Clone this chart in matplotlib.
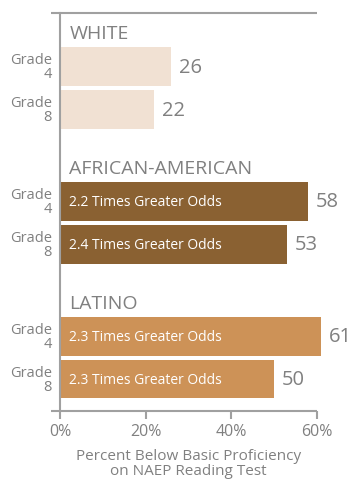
import numpy as np
import matplotlib
matplotlib.use("Agg")
import matplotlib.pyplot as plt

plt.rcParams['font.family'] = ['Open Sans', 'DejaVu Sans']

GRAY = "#808080"
LINE = "#a0a0a0"

groups = ["WHITE", "AFRICAN-AMERICAN", "LATINO"]
grades = ["Grade\n4", "Grade\n8"]
white = [26, 22]
african_american = [58, 53]
latino = [61, 50]
odds_notes = [
    ["", ""],
    ["2.2 Times Greater Odds", "2.4 Times Greater Odds"],
    ["2.3 Times Greater Odds", "2.3 Times Greater Odds"],
]
bar_colors = ["#f1e1d3", "#8a6132", "#cd9257"]
xticks = [0, 20, 40, 60]
xlabel = "Percent Below Basic Proficiency\non NAEP Reading Test"

values = [white, african_american, latino]

W, H = 349, 485
fig = plt.figure(figsize=(W / 100, H / 100), dpi=100)
ax_left, ax_right, ax_top, ax_bot = 60, 317, 13.5, 412
ax = fig.add_axes([ax_left / W, (H - ax_bot) / H,
                   (ax_right - ax_left) / W, (ax_bot - ax_top) / H])

first_row = 1.29
group_step = 3.21
bar_h = 0.92

for g, name in enumerate(groups):
    base = first_row + g * group_step
    ax.text(2.2, base - 0.8, name, fontsize=14, color=GRAY,
            va="center", ha="left")
    for r, val in enumerate(values[g]):
        y = base + r * 1.02
        ax.barh(y, val, height=bar_h, color=bar_colors[g], clip_on=False)
        ax.text(val + 1.8, y, f"{val}", fontsize=14.5, color=GRAY,
                va="center", ha="left", clip_on=False)
        if odds_notes[g][r]:
            ax.text(2.2, y, odds_notes[g][r], fontsize=10, color="white",
                    va="center", ha="left")
        ax.text(-1.9, y, grades[r], fontsize=10.5, color=GRAY, va="center",
                ha="right", multialignment="right", linespacing=0.9)

ax.set_xlim(0, 60)
ax.set_ylim(9.49, 0)

for s in ["top", "right", "bottom"]:
    ax.spines[s].set_visible(False)
ax.spines["left"].set_color(LINE)
ax.spines["left"].set_linewidth(1.5)

# horizontal rules at top and bottom, running a little past the left spine
ext = -9 / (ax_right - ax_left)
for yy in (0, 1):
    ax.plot([ext, 1], [yy, yy], transform=ax.transAxes, color=LINE,
            lw=1.5, clip_on=False, solid_capstyle="butt")

ax.set_yticks([])
ax.set_xticks(xticks)
ax.set_xticklabels([f"{t}%" for t in xticks], fontsize=11.5, color=GRAY)
ax.tick_params(axis="x", direction="out", length=6, width=1.5,
               color=LINE, pad=3)
ax.set_xlabel(xlabel, fontsize=11, color=GRAY, labelpad=6, linespacing=1.05)

fig.savefig("out.png", dpi=100)
